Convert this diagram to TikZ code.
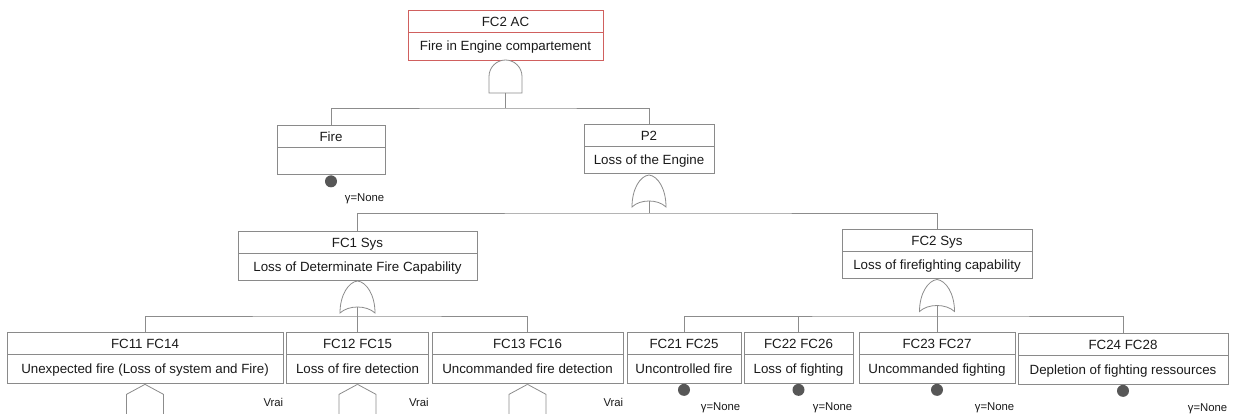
\documentclass[tikz,border=0pt]{standalone}
\usepackage{fontspec}
\setmainfont{Liberation Sans}
\definecolor{ln}{HTML}{8C8C8C}
\definecolor{bx}{HTML}{8A8A8A}
\definecolor{rd}{HTML}{D0605E}
\definecolor{tx}{HTML}{1A1A1A}
\definecolor{dot}{HTML}{575757}
\tikzset{
  every node/.style={font=\fontsize{13.33}{16}\selectfont, text=tx},
  ttl/.style={draw=bx, line width=0.9pt, minimum height=22pt, inner sep=0pt, text height=10.5pt, text depth=0pt},
  dsc/.style={draw=bx, line width=0.9pt, minimum height=28pt, inner sep=0pt, text height=8pt, text depth=0pt},
  conn/.style={draw=ln, line width=0.9pt},
  gate/.style={draw=ln, line width=0.8pt, fill=white},
  small/.style={font=\fontsize{11.33}{13}\selectfont, inner sep=0pt, anchor=east, text height=8pt, text depth=0pt},
  dotev/.style={circle, fill=dot, minimum size=12pt, inner sep=0pt},
}
% name, cx, top, width, title, desc, desc height
\newcommand{\ftb}[7]{%
  \node[ttl, minimum width=#4pt] (#1) at (#2,{#3+11}) {#5};
  \node[dsc, minimum width=#4pt, minimum height=#7pt, anchor=north] (#1d) at (#1.south) {#6};
}
% name, apex x, apex y, half width, height
\newcommand{\orgate}[5]{%
  \begin{scope}[shift={(#2,#3)}]
    \draw[gate] (-#4,#5) .. controls (-#4,14) and (-9,1) .. (0,0)
      .. controls (9,1) and (#4,14) .. (#4,#5)
      .. controls (9,{#5-8}) and (-9,{#5-8}) .. (-#4,#5) -- cycle;
    \coordinate (#1) at (0,{#5-6});
  \end{scope}
}
\newcommand{\house}[1]{%
  \draw[gate, fill=none] (#1) -- ++(-18.5,10) -- ++(0,21);
  \draw[gate, fill=none] (#1) -- ++(18.5,10) -- ++(0,21);
}
\begin{document}
\begin{tikzpicture}[x=1pt, y=-1pt]
\fill[white] (0,0) rectangle (1234,414);
\useasboundingbox (0,0) rectangle (1234,414);

% top event
\node[ttl, draw=rd, minimum width=195pt] (top) at (505.5,21) {FC2 AC};
\node[dsc, draw=rd, minimum width=195pt, anchor=north] (topd) at (top.south) {Fire in Engine compartement};

% AND gate
\begin{scope}[shift={(505.5,60)}]
  \draw[gate] (-16.5,33) -- (-16.5,16.5) .. controls (-16.5,7.4) and (-9.1,0) .. (0,0)
    .. controls (9.1,0) and (16.5,7.4) .. (16.5,16.5) -- (16.5,33) -- cycle;
  \coordinate (g0) at (0,33);
\end{scope}

% level 1
\ftb{fire}{331}{125}{108}{Fire}{}{27}
\ftb{ptwo}{649}{124}{130}{P2}{Loss of the Engine}{27}
\coordinate (bus0) at (505.5,108);
\draw[conn] (g0) -- (bus0);
\draw[conn] (fire.north) |- (bus0) -| (ptwo.north);

\node[dotev, yshift=-6pt] (firec) at (fired.south) {};
\node[small] (firel) at ([xshift=-1pt, yshift=-22pt]fired.south east) {γ=None};

\orgate{g1}{649}{175}{17}{32}

% level 2
\ftb{fca}{357.5}{231}{239}{FC1 Sys}{Loss of Determinate Fire Capability}{27}
\ftb{fcb}{937}{229}{190}{FC2 Sys}{Loss of firefighting capability}{27}
\coordinate (bus1) at (649,213);
\draw[conn] (g1) -- (bus1);
\draw[conn] (fca.north) |- (bus1) -| (fcb.north);

\orgate{g2}{357.5}{281}{17.5}{32}
\orgate{g3}{937}{279.5}{17.5}{32}

% level 3 left
\ftb{fcaa}{145}{332}{276}{FC11 FC14}{Unexpected fire (Loss of system and Fire)}{29}
\ftb{fcab}{357.5}{332}{142}{FC12 FC15}{Loss of fire detection}{29}
\ftb{fcac}{527.5}{332}{191}{FC13 FC16}{Uncommanded fire detection}{29}
\coordinate (bus2) at (357.5,316);
\draw[conn] (g2) -- (fcab.north);
\draw[conn] (fcaa.north) |- (bus2) -| (fcac.north);

\house{fcaad.south}
\house{fcabd.south}
\house{fcacd.south}
\node[small] (va) at ([yshift=-18pt]fcaad.south east) {Vrai};
\node[small] (vb) at ([yshift=-18pt]fcabd.south east) {Vrai};
\node[small] (vc) at ([yshift=-18pt]fcacd.south east) {Vrai};

% level 3 right
\ftb{fcba}{684}{332}{114}{FC21 FC25}{Uncontrolled fire}{29}
\ftb{fcbb}{798.5}{332}{109}{FC22 FC26}{Loss of fighting}{29}
\ftb{fcbc}{937}{332}{156}{FC23 FC27}{Uncommanded fighting}{29}
\ftb{fcbd}{1123}{333}{210}{FC24 FC28}{Depletion of fighting ressources}{29}
\coordinate (bus3) at (937,316);
\draw[conn] (g3) -- (fcbc.north);
\draw[conn] (fcba.north) |- (bus3) -| (fcbd.north);
\draw[conn] (fcbb.north) -- (fcbb.north |- bus3);

\node[dotev, yshift=-5.5pt] (ca) at (fcbad.south) {};
\node[dotev, yshift=-5.5pt] (cb) at (fcbbd.south) {};
\node[dotev, yshift=-5.5pt] (cc) at (fcbcd.south) {};
\node[dotev, yshift=-5.5pt] (cd) at (fcbdd.south) {};
\node[small] (la) at ([xshift=-1pt, yshift=-22pt]fcbad.south east) {γ=None};
\node[small] (lb) at ([xshift=-1pt, yshift=-22pt]fcbbd.south east) {γ=None};
\node[small] (lc) at ([xshift=-1pt, yshift=-22pt]fcbcd.south east) {γ=None};
\node[small] (ld) at ([xshift=-1pt, yshift=-22pt]fcbdd.south east) {γ=None};
\end{tikzpicture}
\end{document}
